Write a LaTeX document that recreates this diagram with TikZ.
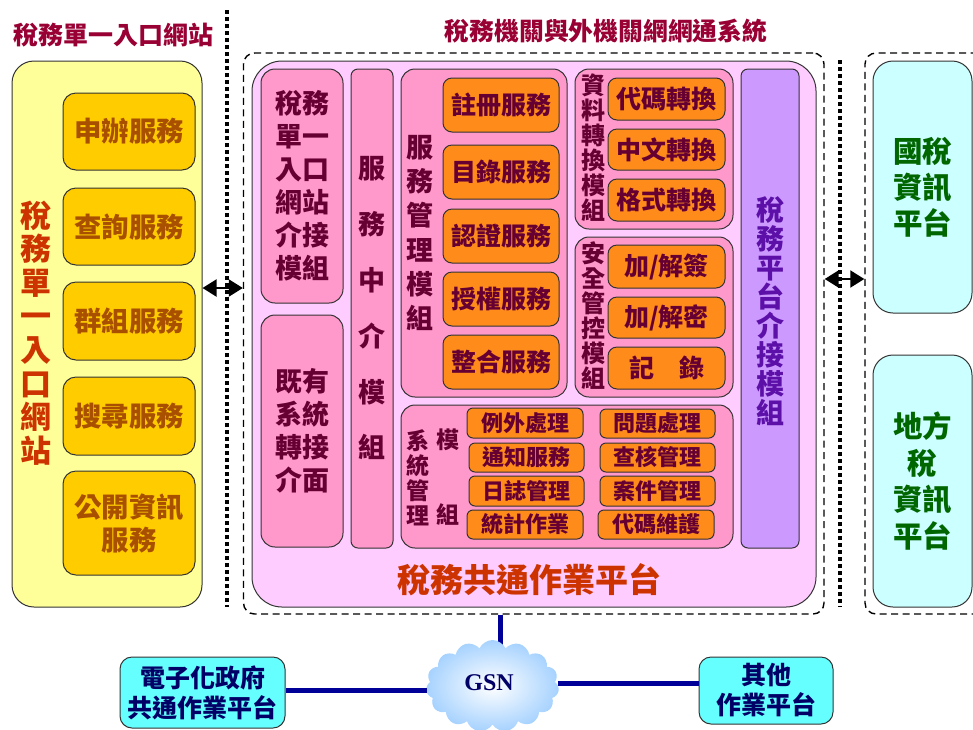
\documentclass[tikz,border=0pt]{standalone}
\usepackage{fontspec}
\usetikzlibrary{shapes.symbols,arrows.meta}
\setmainfont{Noto Sans CJK TC}
\newfontfamily\gsnfont{Liberation Serif}
\definecolor{yel}{HTML}{FFFF99}
\definecolor{gold}{HTML}{FFCC00}
\definecolor{lil}{HTML}{FFCCFF}
\definecolor{pnk}{HTML}{FF99CC}
\definecolor{org}{HTML}{FF8C1A}
\definecolor{pur}{HTML}{CC99FF}
\definecolor{mar}{HTML}{660033}
\definecolor{titlec}{HTML}{990033}
\definecolor{redor}{HTML}{CC3300}
\definecolor{brn}{HTML}{A85000}
\definecolor{cy}{HTML}{CCFFFF}
\definecolor{cyb}{HTML}{66FFFF}
\definecolor{navy}{HTML}{000066}
\definecolor{edge}{HTML}{333333}
\definecolor{cableb}{HTML}{000099}
\definecolor{cloudb}{HTML}{A6D2FF}
\definecolor{grn}{HTML}{006600}
\definecolor{vio}{HTML}{5C10A8}
\newcommand{\fs}[2]{\fontsize{#1}{#2}\selectfont\bfseries}
\newcommand{\bx}[7]{%
  \pgfmathsetmacro\bxw{#5-#3}\pgfmathsetmacro\bxh{#6-#4}%
  \node[#2,minimum width=\bxw pt,minimum height=\bxh pt] (#1) at ({(#3+#5)/2},{(#4+#6)/2}) {#7};}
\tikzset{
  base/.style={draw=edge,line width=1pt,inner sep=0pt,align=center,rounded corners=#1},
  base/.default=10pt,
  lbl/.style={inner sep=0pt,align=center},
  yellowbox/.style={base=22pt,fill=yel},
  goldbox/.style={base=13pt,fill=gold,text=brn,font=\fs{27.4}{33}},
  platbox/.style={base=30pt,fill=lil},
  modbox/.style={base=14pt,fill=pnk,text=mar,font=\fs{27}{33}},
  narrowbox/.style={base=7pt,fill=pnk,text=mar},
  orgbox/.style={base=9pt,fill=org,text=mar,font=\fs{25}{30}},
  smallbox/.style={base=6pt,fill=org,text=mar,font=\fs{22}{26}},
  purbox/.style={base=7pt,fill=pur},
  cyanbox/.style={base=20pt,fill=cy,text=grn,font=\fs{29.5}{36}},
  netbox/.style={base=12pt,fill=cyb,text=navy,font=\fs{25}{30}},
  dashbox/.style={draw=black,line width=1.4pt,dash pattern=on 7pt off 4.5pt,rounded corners=11pt,inner sep=0pt},
  dotline/.style={draw=black,line width=4pt,dash pattern=on 4pt off 3pt},
  cable/.style={draw=cableb,line width=5pt},
  dblarrow/.style={draw=black,line width=2pt,{Triangle[length=14pt,width=17pt]}-{Triangle[length=14pt,width=17pt]}},
  vmod/.style={lbl,text=mar}
}
\begin{document}
\begin{tikzpicture}[x=1pt,y=-1pt]
\useasboundingbox (0,0) rectangle (973,729);
% dashed frames
\bx{mainDash}{dashbox}{243.5}{53}{824}{614}{}
\bx{rightDash}{dashbox}{865}{53}{1000}{614}{}
% dotted separators
\coordinate (dotLt) at (227,10); \coordinate (dotLb) at (227,607);
\coordinate (dotRt) at (840,60); \coordinate (dotRb) at (840,607);
\draw[dotline] (dotLt) -- (dotLb);
\draw[dotline] (dotRt) -- (dotRb);
% titles
\node[lbl,text=titlec,font=\fs{25}{30}] (tLeft) at (113,35) {稅務單一入口網站};
\node[lbl,text=titlec,font=\fs{24.8}{30}] (tMain) at (606,31) {稅務機關與外機關網網通系統};
% left column
\bx{portal}{yellowbox}{12}{61}{202}{607}{}
\node[lbl,text=redor,font=\fs{31}{33.6}] (portalT) at (36,333) {稅\\務\\單\\一\\入\\口\\網\\站};
\bx{s1}{goldbox}{63}{93}{195}{170}{申辦服務}
\bx{s2}{goldbox}{63}{188}{195}{265}{查詢服務}
\bx{s3}{goldbox}{63}{282}{195}{360}{群組服務}
\bx{s4}{goldbox}{63}{377}{195}{455}{搜尋服務}
\bx{s5}{goldbox}{63}{471}{195}{575}{公開資訊\\服務}
% platform
\bx{plat}{platbox}{252}{61}{816}{607}{}
\bx{mPortal}{modbox}{261}{69}{343}{303}{稅務\\單一\\入口\\網站\\介接\\模組}
\bx{mLegacy}{modbox}{261}{315}{343}{547}{既有\\系統\\轉接\\介面}
\bx{mBroker}{narrowbox,font=\fs{27}{55.8}}{351}{69}{393}{548}{服\\務\\中\\介\\模\\組}
% service management
\bx{mSvc}{modbox}{401}{69}{567}{397}{}
\node[vmod,font=\fs{27}{34.2}] (mSvcT) at (420,233) {服\\務\\管\\理\\模\\組};
\bx{v1}{orgbox}{443}{78}{559}{132}{註冊服務}
\bx{v2}{orgbox}{443}{145}{559}{199}{目錄服務}
\bx{v3}{orgbox}{443}{209}{559}{263}{認證服務}
\bx{v4}{orgbox}{443}{272}{559}{326}{授權服務}
\bx{v5}{orgbox}{443}{335}{559}{389}{整合服務}
% data conversion
\bx{mData}{modbox}{575}{69}{733}{229}{}
\node[vmod,font=\fs{24}{25}] (mDataT) at (593,148) {資\\料\\轉\\換\\模\\組};
\bx{d1}{orgbox}{608}{78}{725}{120}{代碼轉換}
\bx{d2}{orgbox}{608}{129}{725}{170}{中文轉換}
\bx{d3}{orgbox}{608}{179}{725}{221}{格式轉換}
% security
\bx{mSec}{modbox}{575}{237}{733}{397}{}
\node[vmod,font=\fs{24}{25}] (mSecT) at (593,316) {安\\全\\管\\控\\模\\組};
\bx{c1}{orgbox}{608}{245}{725}{288}{加/解簽}
\bx{c2}{orgbox}{608}{297}{725}{338}{加/解密}
\bx{c3}{orgbox}{608}{347}{725}{389}{記　錄}
% system management
\bx{mSys}{modbox}{401}{405}{733}{548}{}
\node[vmod,font=\fs{23}{25}] (mSysT) at (418,478) {系\\統\\管\\理};
\node[vmod,font=\fs{23}{25}] (mSysA) at (448,440) {模};
\node[vmod,font=\fs{23}{25}] (mSysB) at (448,515) {組};
\bx{y1}{smallbox}{467}{408}{583}{438}{例外處理}
\bx{y2}{smallbox}{469}{443}{584}{472}{通知服務}
\bx{y3}{smallbox}{469}{476}{584}{506}{日誌管理}
\bx{y4}{smallbox}{467}{510}{583}{539}{統計作業}
\bx{z1}{smallbox}{600}{409}{715}{438}{問題處理}
\bx{z2}{smallbox}{600}{443}{715}{472}{查核管理}
\bx{z3}{smallbox}{600}{476}{715}{506}{案件管理}
\bx{z4}{smallbox}{598}{510}{714}{539}{代碼維護}
% tax platform interface
\bx{mIface}{purbox}{741}{69}{799}{548}{}
\node[lbl,text=vio,font=\fs{28}{29}] (mIfaceT) at (770,311) {稅\\務\\平\\台\\介\\接\\模\\組};
\node[lbl,text=redor,font=\fs{33}{38}] (platT) at (529,580) {稅務共通作業平台};
% right column
\bx{nat}{cyanbox}{873}{61}{972}{313}{國稅\\資訊\\平台}
\bx{loc}{cyanbox,font=\fs{29.5}{36.7}}{873}{355}{972}{607}{地方\\稅\\資訊\\平台}
% bottom
\coordinate (gsnTop) at (500,650);
\draw[cable] (gsnTop |- mainDash.south) -- (gsnTop);
\bx{egov}{netbox}{120}{657}{285}{728}{電子化政府\\共通作業平台}
\bx{other}{netbox}{699}{657}{833}{724}{其他\\作業平台}
\node[cloud,cloud puffs=15,cloud puff arc=130,aspect=1.5,inner sep=0pt,minimum width=133pt,minimum height=92pt,
  inner color=white,outer color=cloudb] (gsn) at (492.5,686) {};
\node[lbl,text=navy,font=\gsnfont\fontsize{24}{28}\selectfont\bfseries] (gsnT) at (489,683) {GSN};
\draw[cable] ([yshift=2pt]egov.east) -- ([yshift=2pt]egov.east -| gsn.west);
\draw[cable] ([yshift=7.5pt]other.west) -- ([yshift=7.5pt]other.west -| gsn.east);
% arrows
\coordinate (arL) at (224,288);
\coordinate (arR) at (845,279);
\draw[dblarrow] (arL -| portal.east) -- (arL -| mainDash.west);
\draw[dblarrow] (arR -| mainDash.east) -- (arR -| rightDash.west);
\end{tikzpicture}
\end{document}
